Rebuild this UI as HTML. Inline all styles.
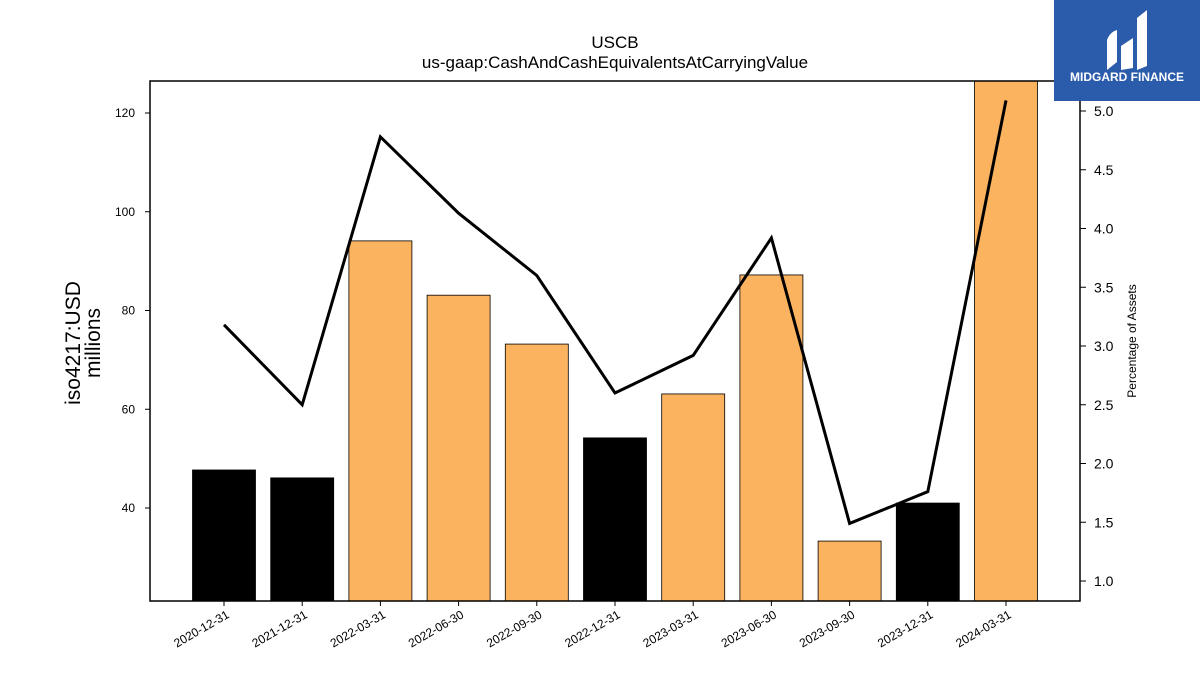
<!DOCTYPE html>
<html><head><meta charset="utf-8"><style>
body{margin:0;background:#fff;font-family:"Liberation Sans",sans-serif;}
</style></head><body>
<svg width="1200" height="675" xmlns="http://www.w3.org/2000/svg" font-family="Liberation Sans, sans-serif">
<text x="615" y="48" text-anchor="middle" font-size="17">USCB</text>
<text x="615" y="68" text-anchor="middle" font-size="17">us-gaap:CashAndCashEquivalentsAtCarryingValue</text>
<defs><clipPath id="pc"><rect x="150" y="81" width="930" height="520"/></clipPath></defs>
<g id="bars" clip-path="url(#pc)"></g>
<g id="line"></g>
<rect x="150" y="81" width="930" height="520" fill="none" stroke="#000" stroke-width="1.5"/>
<g id="lt"></g><g id="rt"></g><g id="xt"></g>
<text transform="translate(80,343) rotate(-90)" text-anchor="middle" font-size="21">iso4217:USD</text>
<text transform="translate(100,343) rotate(-90)" text-anchor="middle" font-size="21">millions</text>
<text transform="translate(1136,341) rotate(-90)" text-anchor="middle" font-size="12">Percentage of Assets</text>
<g>
<rect x="1054" y="0" width="146" height="101" fill="#2b5bab"/>
<path d="M1107 70 L1107 40 Q1110 32 1117 30 L1117 62 Z M1121 70 L1121 46 L1133 38 L1133 68 Z M1137 70 L1137 18 L1147 10 L1147 66 Z" fill="#fff"/>
<text x="1127" y="81" text-anchor="middle" font-size="12" font-weight="bold" fill="#fff">MIDGARD FINANCE</text>
</g>
</svg>
<script>
const categories=["2020-12-31","2021-12-31","2022-03-31","2022-06-30","2022-09-30","2022-12-31","2023-03-31","2023-06-30","2023-09-30","2023-12-31","2024-03-31"];
const barValues=[47.7,46.1,94.1,83.1,73.2,54.2,63.1,87.2,33.3,41.0,130];
const barIsAnnual=[true,true,false,false,false,true,false,false,false,true,false];
const pctValues=[3.18,2.50,4.78,4.13,3.60,2.60,2.92,3.92,1.49,1.76,5.09];
const leftTicks=[40,60,80,100,120];
const rightTicks=[1.0,1.5,2.0,2.5,3.0,3.5,4.0,4.5,5.0];
const NS="http://www.w3.org/2000/svg";
const yL=v=>508-(v-40)*4.9375;
const yR=v=>581-(v-1)*117.5;
const xC=i=>224+i*78.2;
function mk(t,a,p){const e=document.createElementNS(NS,t);for(const k in a)e.setAttribute(k,a[k]);document.getElementById(p).appendChild(e);return e;}
categories.forEach((c,i)=>{
 const top=yL(barValues[i]);
 const r=mk("rect",{x:xC(i)-31.5,y:top,width:63,height:601-top,fill:barIsAnnual[i]?"#000":"#fbb360",stroke:"#000","stroke-width":0.8},"bars");
 
 
 const tk=mk("line",{x1:xC(i),x2:xC(i),y1:601,y2:606,stroke:"#000"},"xt");
 
 
 const t=mk("text",{x:0,y:0,"font-size":12,"text-anchor":"end",transform:`translate(${xC(i)+6},${617}) rotate(-30)`},"xt");
 t.textContent=c;
 
 
});
const pl=mk("polyline",{points:pctValues.map((v,i)=>xC(i)+","+yR(v)).join(" "),fill:"none",stroke:"#000","stroke-width":3},"line");


leftTicks.forEach(v=>{
 const l=mk("line",{x1:145,x2:150,y1:yL(v),y2:yL(v),stroke:"#000"},"lt");
 
 
 const t=mk("text",{x:135,y:yL(v)+4,"font-size":12,"text-anchor":"end"},"lt");
 t.textContent=v;
 
 
});
rightTicks.forEach(v=>{
 const l=mk("line",{x1:1080,x2:1086,y1:yR(v),y2:yR(v),stroke:"#000"},"rt");
 
 
 const t=mk("text",{x:1094,y:yR(v)+5,"font-size":14},"rt");
 t.textContent=v.toFixed(1);
 
 
});
</script>
</body></html>
